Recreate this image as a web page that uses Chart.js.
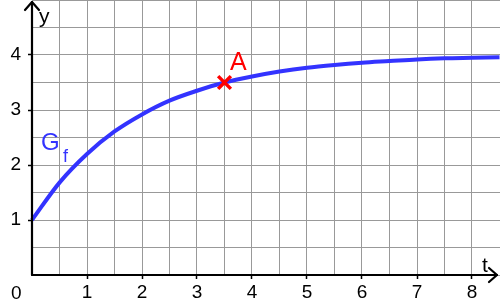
<!DOCTYPE html>
<html><head><meta charset="utf-8">
<script src="https://cdn.jsdelivr.net/npm/chart.js@4.4.1/dist/chart.umd.min.js"></script>
<style>html,body{margin:0;padding:0;background:#fff}#wrap{width:500px;height:308px}</style>
</head><body><div id="wrap"><canvas id="c" width="500" height="308"></canvas></div>
<script>
const tValues = [0, 0.5, 1, 1.5, 2, 2.5, 3, 3.5, 4, 4.5, 5, 5.5, 6, 6.5, 7, 7.5, 8, 8.5];
const fValues = [1.00, 1.68, 2.20, 2.61, 2.92, 3.17, 3.35, 3.50, 3.61, 3.70, 3.77, 3.82, 3.86, 3.89, 3.92, 3.94, 3.95, 3.96];
const pointA = [3.5, 3.5];
const pointLabel = "A";
const curveLabel = ["G", "f"];
const axisLabels = ["t", "y"];
const xTickLabels = ["1","2","3","4","5","6","7","8"];
const yTickLabels = ["1","2","3","4"];
const originLabel = "0";

const FONT = "'Liberation Sans', Arial, sans-serif";

const overlay = {
  id: 'overlay',
  afterDraw(chart) {
    const ctx = chart.ctx;
    const xs = chart.scales.x, ys = chart.scales.y;
    const x0 = xs.getPixelForValue(0), y0 = ys.getPixelForValue(0);
    ctx.save();
    ctx.strokeStyle = '#000'; ctx.lineWidth = 2.2; ctx.lineCap = 'round'; ctx.lineJoin = 'round';
    ctx.beginPath(); ctx.moveTo(489, y0 - 7); ctx.lineTo(497, y0); ctx.lineTo(489, y0 + 7); ctx.stroke();
    ctx.beginPath(); ctx.moveTo(x0, y0); ctx.lineTo(497, y0); ctx.stroke();
    ctx.beginPath(); ctx.moveTo(x0 - 7, 10); ctx.lineTo(x0, 2); ctx.lineTo(x0 + 7, 10); ctx.stroke();
    ctx.beginPath(); ctx.moveTo(x0, 2); ctx.lineTo(x0, y0); ctx.stroke();
    ctx.fillStyle = '#000'; ctx.textBaseline = 'alphabetic'; ctx.textAlign = 'left';
    ctx.font = '21px ' + FONT;
    ctx.fillText(axisLabels[1], 39, 23);
    ctx.fillText(axisLabels[0], 482, 272);
    ctx.font = '19px ' + FONT;
    ctx.fillText(originLabel, 11, 299);
    ctx.fillStyle = '#ff0000'; ctx.font = '25px ' + FONT;
    ctx.fillText(pointLabel, 230, 70);
    ctx.fillStyle = '#3333ff'; ctx.font = '24px ' + FONT;
    ctx.fillText(curveLabel[0], 41, 150);
    ctx.font = '18px ' + FONT;
    ctx.fillText(curveLabel[1], 63, 162);
    ctx.restore();
  }
};

const isInt = v => Math.abs(v - Math.round(v)) < 1e-6;
const zeroPad = s => { s.paddingTop = 0; s.paddingBottom = 0; s.paddingLeft = 0; s.paddingRight = 0; };

new Chart(document.getElementById('c'), {
  type: 'line',
  data: {
    datasets: [
      { data: tValues.map((t, i) => ({x: t, y: fValues[i]})), borderColor: '#3333ff', borderWidth: 4,
        pointRadius: 0, cubicInterpolationMode: 'monotone', fill: false, order: 2, clip: false },
      { type: 'scatter', data: [{x: pointA[0], y: pointA[1]}], pointStyle: 'crossRot', pointRadius: 9,
        borderColor: '#ff0000', backgroundColor: '#ff0000', pointBorderWidth: 3.5, order: 1, clip: false }
    ]
  },
  options: {
    responsive: false, animation: false, devicePixelRatio: 1,
    layout: { padding: 0, autoPadding: false },
    plugins: { legend: { display: false }, tooltip: { enabled: false } },
    scales: {
      x: {
        type: 'linear', min: 0, max: 468 / 55,
        afterFit: s => { s.height = 33; zeroPad(s); },
        border: { display: false },
        grid: { color: '#999', lineWidth: 1, drawTicks: true, tickLength: 4,
                tickColor: c => (isInt(c.tick.value) && c.tick.value > 0 && c.tick.value < 8.6) ? '#000' : 'rgba(0,0,0,0)', tickWidth: 1.5 },
        ticks: { stepSize: 0.5, autoSkip: false, maxRotation: 0, padding: 2,
                 color: '#000', font: { family: FONT, size: 19 },
                 callback: v => { const i = xTickLabels.indexOf(String(v)); return i >= 0 ? xTickLabels[i] : ''; } }
      },
      y: {
        type: 'linear', min: 0, max: 5,
        afterFit: s => { s.width = 32; zeroPad(s); },
        border: { display: false },
        grid: { color: '#999', lineWidth: 1, drawTicks: true, tickLength: 4,
                tickColor: c => (isInt(c.tick.value) && c.tick.value > 0 && c.tick.value < 5) ? '#000' : 'rgba(0,0,0,0)', tickWidth: 1.5 },
        ticks: { stepSize: 0.5, autoSkip: false, padding: 7,
                 color: '#000', font: { family: FONT, size: 19 },
                 callback: v => { const i = yTickLabels.indexOf(String(v)); return i >= 0 ? yTickLabels[i] : ''; } }
      }
    }
  },
  plugins: [overlay]
});
</script></body></html>
